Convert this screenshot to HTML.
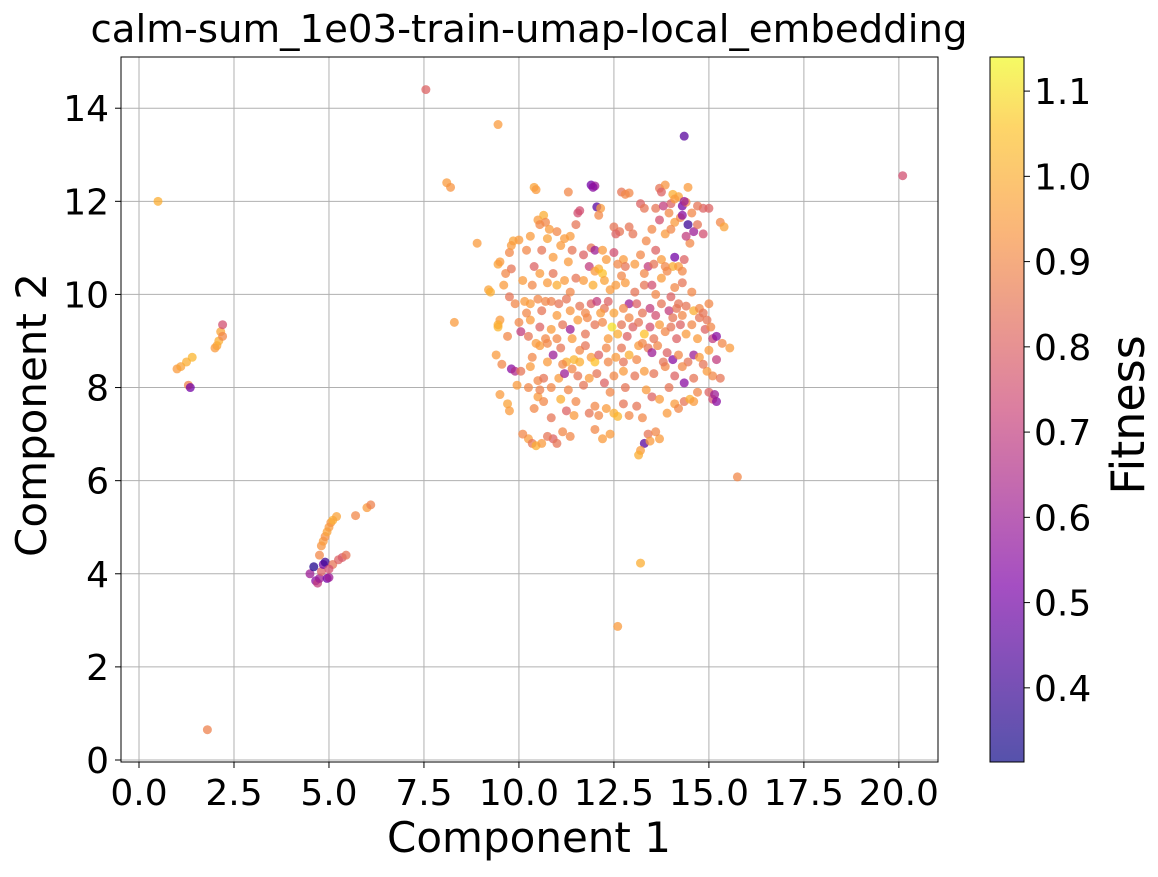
<!DOCTYPE html>
<html><head><meta charset="utf-8"><style>
html,body{margin:0;padding:0;background:#fff;}
svg text{font-family:"DejaVu Sans","Liberation Sans",sans-serif;fill:#000;}
</style></head><body>
<svg id="chart" width="1158" height="872" xmlns="http://www.w3.org/2000/svg">
<defs><linearGradient id="cbgrad" x1="0" y1="1" x2="0" y2="0"></linearGradient></defs>
<text x="529" y="42" font-size="38" text-anchor="middle" textLength="877" lengthAdjust="spacingAndGlyphs">calm-sum_1e03-train-umap-local_embedding</text>
<g id="grid"></g>
<g id="points"></g>
<rect x="121" y="57" width="817" height="705" fill="none" stroke="#000" stroke-width="1"/>
<g id="xticks"></g>
<g id="yticks"></g>
<text x="529" y="852" font-size="42" text-anchor="middle">Component 1</text>
<text transform="translate(46,415) rotate(-90)" font-size="42" text-anchor="middle">Component 2</text>
<rect x="990" y="57" width="34" height="705" fill="url(#cbgrad)" stroke="#000" stroke-width="1"/>
<g id="cbticks"></g>
<text transform="translate(1144,415) rotate(-90)" font-size="46" text-anchor="middle">Fitness</text>
</svg>
<script>
const xTicks=[0,2.5,5,7.5,10,12.5,15,17.5,20];
const yTicks=[0,2,4,6,8,10,12,14];
const cbTicks=[0.4,0.5,0.6,0.7,0.8,0.9,1.0,1.1];
const outlierPoints=[[0.5,12.0,1.0],[1.8,0.65,0.88],[7.55,14.4,0.8],[9.45,13.65,0.95],[20.1,12.55,0.75],[14.35,13.4,0.45],[15.75,6.08,0.9],[13.2,4.23,1.0],[12.6,2.87,0.95],[8.1,12.4,0.95],[8.2,12.3,0.93],[8.3,9.4,0.95],[8.9,11.1,0.95]];
const leftPoints=[[1.0,8.4,0.95],[1.1,8.45,0.97],[1.25,8.55,1.0],[1.4,8.65,1.02],[1.3,8.05,0.88],[1.35,8.0,0.5],[2.0,8.85,0.95],[2.05,8.9,0.97],[2.1,9.0,1.0],[2.15,9.2,0.98],[2.2,9.1,0.9],[2.2,9.35,0.75]];
const lowerPoints=[[4.5,4.0,0.6],[4.6,4.15,0.35],[4.65,3.85,0.55],[4.7,3.8,0.7],[4.75,3.9,0.6],[4.8,4.05,0.8],[4.85,4.2,0.5],[4.9,4.25,0.4],[4.95,3.9,0.5],[5.0,3.92,0.6],[4.8,4.6,0.93],[4.85,4.7,0.95],[4.9,4.8,0.92],[4.95,4.9,0.97],[5.0,5.0,0.95],[5.05,5.1,0.93],[5.1,5.15,1.0],[5.2,5.23,0.97],[5.1,4.2,0.85],[5.25,4.3,0.8],[5.35,4.35,0.78],[5.45,4.4,0.85],[5.7,5.25,0.9],[6.0,5.42,0.95],[6.1,5.48,0.88],[4.75,4.4,0.9],[5.0,4.1,0.75]];
const clusterPoints=[
[10.4,12.3,.97],[11.3,12.2,.9],[11.9,12.35,.5],[12.0,12.33,.6],[12.7,12.2,.85],[12.9,12.18,.9],[13.7,12.28,.85],[13.85,12.35,.93],[14.45,12.3,.95],[14.2,12.1,.97],[14.05,12.15,1.0],
[11.55,11.75,.75],[12.05,11.88,.45],[12.15,11.85,.95],[13.2,11.95,.8],[13.6,11.85,.85],[14.0,11.95,.8],[14.3,11.9,.5],[14.4,11.98,.9],[14.85,11.85,.8],[14.7,11.9,.85],[15.3,11.55,.9],[15.4,11.45,.97],
[10.5,11.6,.95],[10.65,11.7,1.0],[10.7,11.55,.9],[11.0,11.35,.9],[11.1,11.05,.95],[11.35,11.25,.95],[12.5,11.45,.85],[12.65,11.35,.85],[13.0,11.3,.85],[13.35,11.15,.9],[13.7,11.6,.75],[13.95,11.75,.9],[14.1,11.55,.95],[14.25,11.65,.9],[14.45,11.5,.4],[14.6,11.35,.6],[14.85,11.3,.75],[14.5,11.1,.9],[14.3,11.7,.55],
[9.85,11.15,.97],[10.0,11.17,.95],[9.75,10.9,.9],[10.3,11.25,.95],[10.75,11.2,.97],[10.9,10.8,.95],[11.4,10.95,.85],[11.9,11.0,.85],[12.0,10.95,.6],[12.3,10.75,.95],[12.5,10.9,.75],[12.75,10.75,.95],[12.8,10.6,.85],[13.2,10.85,.9],[13.4,10.6,.7],[13.6,10.95,.8],[13.75,10.75,.95],[14.1,10.8,.5],[14.05,10.6,1.0],[14.2,10.6,.95],[14.3,10.5,.9],
[9.45,10.65,.97],[9.5,10.7,.95],[9.8,10.55,.85],[9.6,10.2,.95],[10.4,10.6,.8],[10.55,10.45,.95],[10.75,10.25,.95],[11.0,10.2,1.0],[11.2,10.3,.95],[11.5,10.35,.85],[11.85,10.6,.7],[12.0,10.5,.95],[12.1,10.55,1.0],[12.2,10.45,1.05],[12.25,10.3,.97],[12.4,10.1,.95],[12.8,10.25,.95],[13.3,10.2,.85],[13.5,10.2,.75],[13.75,10.35,.95],[13.9,10.5,.9],[14.1,10.15,.9],[14.0,9.95,.8],[14.2,9.8,.85],[12.7,10.4,.9],
[9.2,10.1,.97],[9.25,10.05,1.0],[9.75,9.95,.85],[9.9,9.8,.9],[10.15,9.85,.95],[10.3,9.8,.95],[10.5,9.9,.9],[10.7,9.85,.9],[10.85,9.85,.88],[11.05,9.8,.85],[11.35,9.65,.93],[11.6,9.75,.85],[11.9,9.8,.8],[12.05,9.85,.7],[12.25,9.7,.85],[12.5,9.6,.97],[12.9,9.8,.6],[13.1,9.8,.8],[13.45,9.7,.7],[13.75,9.8,.85],[13.95,9.65,.7],[14.15,9.7,.85],[14.4,9.75,.85],[14.6,9.65,1.0],[14.75,9.7,.9],[15.0,9.8,.9],[14.85,9.6,.85],
[9.5,9.45,.95],[9.45,9.3,1.02],[9.45,9.35,1.0],[10.0,9.4,.9],[10.05,9.2,.7],[10.3,9.45,.95],[10.55,9.3,.8],[10.7,9.05,.9],[10.85,9.25,.95],[11.15,9.35,.85],[11.35,9.25,.6],[11.55,9.45,.95],[11.8,9.5,.9],[12.0,9.35,.85],[12.2,9.4,.9],[12.45,9.3,1.1],[12.6,9.15,1.0],[12.7,9.35,.85],[12.9,9.5,.9],[13.0,9.3,.8],[13.15,9.4,.85],[13.3,9.15,1.05],[13.45,9.3,.75],[13.7,9.35,.95],[13.85,9.2,.9],[14.0,9.3,.85],[14.25,9.35,.8],[14.4,9.15,.95],[14.55,9.35,.9],[14.75,9.5,.85],[14.9,9.25,.8],[15.1,9.05,.7],[15.2,9.1,.55],[15.35,8.95,.9],
[10.55,8.9,.95],[10.75,8.95,.9],[10.9,8.7,.6],[11.1,8.85,.85],[11.25,8.55,1.0],[11.45,8.6,1.02],[11.6,8.8,.9],[11.75,8.9,.85],[11.9,8.65,.95],[12.0,8.55,1.05],[12.1,8.7,.8],[12.3,8.85,.9],[12.55,8.65,.95],[12.7,8.85,.85],[12.9,8.7,1.0],[13.15,8.9,.95],[13.4,8.85,.85],[13.5,8.75,.6],[13.65,8.9,.9],[13.9,8.75,.8],[14.05,8.6,.55],[14.2,8.7,.9],[14.45,8.55,.85],[14.6,8.7,.6],[14.75,8.65,.95],[15.0,8.8,.95],[15.55,8.85,.95],
[9.4,8.7,.95],[9.55,8.5,.9],[9.8,8.4,.55],[9.9,8.35,.65],[10.05,8.35,.85],[10.3,8.45,.95],[10.5,8.15,.9],[10.65,8.2,.85],[10.85,8.0,.9],[11.05,8.2,.95],[11.2,8.3,.6],[11.4,8.4,.9],[11.55,8.25,.85],[11.85,8.2,.95],[12.05,8.3,.85],[12.25,8.1,.8],[12.5,8.25,.9],[12.75,8.35,.95],[13.05,8.25,.85],[13.3,8.35,.95],[13.55,8.3,.85],[13.85,8.45,.9],[14.1,8.25,.8],[14.35,8.1,.55],[14.6,8.2,.85],[14.95,8.35,.95],[15.1,8.25,.9],[15.3,8.2,.85],
[9.5,7.85,.95],[9.7,7.65,.97],[9.75,7.5,.95],[10.5,7.8,.95],[10.55,7.95,.88],[10.65,7.7,.9],[11.1,7.75,1.0],[11.25,7.5,.8],[11.5,7.7,.9],[11.85,7.45,.85],[12.1,7.4,.9],[12.5,7.45,1.0],[12.6,7.38,1.02],[12.3,7.55,.95],[12.9,7.4,.9],[13.1,7.6,.85],[13.5,7.8,.8],[13.7,7.75,.95],[14.1,7.65,.95],[14.35,7.7,.85],[14.5,7.75,1.0],[15.0,7.9,.8],[15.1,7.75,.75],[15.2,7.7,.55],[15.15,7.85,.6],
[10.25,6.9,.95],[10.35,6.8,.85],[10.45,6.75,1.0],[10.6,6.8,.95],[10.9,6.9,.8],[11.0,6.8,.85],[11.15,7.05,.9],[12.0,7.1,.9],[12.2,6.9,.95],[13.3,6.8,.45],[13.4,7.0,.85],[13.45,6.85,.95],[13.2,6.65,.95],[13.15,6.55,1.0],[13.7,6.9,.95]];
const clusterPoints2=[
[10.45,12.25,.95],[11.95,12.3,.55],[12.8,12.15,.9],[13.75,12.2,.8],[14.1,12.05,.95],[14.35,12.0,.6],
[11.6,11.8,.75],[12.1,11.7,.9],[13.3,11.85,.85],[13.8,11.9,.7],[14.55,11.75,.9],[15.0,11.85,.8],
[10.55,11.5,.9],[10.8,11.4,.95],[11.2,11.2,.95],[11.5,11.5,.85],[12.55,11.3,.8],[12.9,11.45,.85],[13.5,11.4,.9],[13.85,11.3,.95],[14.0,11.4,.9],[14.4,11.25,.7],[14.7,11.5,.85],
[9.8,11.05,.95],[10.2,10.95,.9],[10.6,10.95,.85],[11.3,10.7,.95],[11.7,10.85,.8],[12.2,10.95,.95],[12.6,10.65,.9],[13.05,10.65,.95],[13.3,10.45,.9],[13.55,10.65,.85],[13.85,10.6,.9],[14.35,10.75,.8],
[9.65,10.45,.9],[10.1,10.3,.95],[10.35,10.2,.9],[10.9,10.45,.85],[11.35,10.05,.9],[11.7,10.3,.95],[11.95,10.2,1.0],[12.55,10.2,.95],[13.05,10.05,.85],[13.6,10.0,.9],[14.3,10.25,.85],[14.55,10.05,.9],
[10.2,9.6,.9],[10.6,9.65,.85],[11.0,9.55,.95],[11.25,9.9,.85],[11.75,9.6,.9],[12.15,9.6,.95],[12.35,9.85,.8],[12.75,9.7,.9],[13.25,9.6,.85],[13.6,9.55,.75],[14.05,9.5,.85],[14.3,9.55,.9],[14.95,9.45,.85],
[9.7,9.1,.9],[10.25,9.1,.85],[10.45,8.95,.95],[11.0,9.05,.9],[11.4,9.05,.95],[11.75,9.15,.85],[12.35,9.05,.95],[12.85,9.1,.8],[13.25,8.95,.9],[13.55,9.05,.85],[14.15,9.05,.8],[14.7,9.05,.95],[15.05,9.3,.9],
[10.35,8.65,.9],[10.75,8.55,.95],[11.15,8.5,.9],[11.6,8.55,1.0],[12.35,8.55,.9],[12.75,8.55,.85],[13.1,8.6,.9],[13.8,8.55,.85],[14.3,8.45,.9],[14.85,8.5,.85],[15.2,8.6,.7],
[9.95,8.05,.95],[10.25,8.0,.9],[11.3,7.95,.9],[11.7,8.05,.85],[12.4,7.9,.9],[12.8,8.0,.85],[13.35,7.95,.95],[13.95,8.0,.85],[14.7,7.9,.9],
[10.4,7.55,.9],[10.85,7.35,.85],[11.45,7.4,.95],[12.0,7.6,.9],[12.75,7.65,.85],[13.25,7.35,.9],[13.9,7.45,.95],[14.2,7.55,.9],[14.6,7.7,.95],
[10.1,7.0,.9],[10.75,6.95,.85],[11.35,6.95,.9],[12.4,7.0,.95],[13.6,7.05,.9]];

const NS='http://www.w3.org/2000/svg';
const X0=121,X1=938,Y0=57,Y1=762;
const xMin=-0.474,xMax=21.03,yMin=-0.043,yMax=15.1;
const cMin=0.313,cMax=1.14;
const xs=v=>X0+(v-xMin)/(xMax-xMin)*(X1-X0);
const ys=v=>Y1-(v-yMin)/(yMax-yMin)*(Y1-Y0);
const cs=v=>Y1-(v-cMin)/(cMax-cMin)*(Y1-Y0);
const stops2=[[0,[13,8,135]],[0.25,[126,3,168]],[0.5,[204,71,120]],[0.75,[248,149,64]],[0.9,[253,195,40]],[1,[240,249,33]]];
function plasma(t){t=Math.max(0,Math.min(1,t));for(let i=1;i<stops2.length;i++){if(t<=stops2[i][0]){const a=stops2[i-1],b=stops2[i];const u=(t-a[0])/(b[0]-a[0]);return 'rgb('+a[1].map((c,k)=>Math.round(c+(b[1][k]-c)*u)).join(',')+')';}}return 'rgb(240,249,33)';}
function mk(tag,attrs,parent){const e=document.createElementNS(NS,tag);for(const k in attrs)e.setAttribute(k,attrs[k]);parent.appendChild(e);return e;}
const grad=document.getElementById('cbgrad');
for(let i=0;i<=20;i++){const t=i/20;mk('stop',{offset:t,'stop-color':plasma(t),'stop-opacity':0.7},grad);}
const grid=document.getElementById('grid');
const xt=document.getElementById('xticks');
xTicks.forEach(v=>{const x=xs(v);
const gl=mk('line',{x1:x,x2:x,y1:Y0,y2:Y1,stroke:'#b0b0b0','stroke-width':1},grid);


mk('line',{x1:x,x2:x,y1:Y1,y2:Y1+6,stroke:'#000'},xt);
const t=mk('text',{x:x,y:Y1+43,'font-size':36,'text-anchor':'middle'},xt);t.textContent=v.toFixed(1);

});
const yt=document.getElementById('yticks');
yTicks.forEach(v=>{const y=ys(v);
const gl=mk('line',{x1:X0,x2:X1,y1:y,y2:y,stroke:'#b0b0b0','stroke-width':1},grid);


mk('line',{x1:X0-6,x2:X0,y1:y,y2:y,stroke:'#000'},yt);
const t=mk('text',{x:X0-12,y:y+13,'font-size':36,'text-anchor':'end'},yt);t.textContent=String(v);

});
const cb=document.getElementById('cbticks');
cbTicks.forEach(v=>{const y=cs(v);
mk('line',{x1:1024,x2:1030,y1:y,y2:y,stroke:'#000'},cb);
const t=mk('text',{x:1034,y:y+13,'font-size':36},cb);t.textContent=v.toFixed(1);

});
const pg=document.getElementById('points');
[outlierPoints,leftPoints,lowerPoints,clusterPoints,clusterPoints2].forEach(arr=>arr.forEach(p=>{
const c=mk('circle',{cx:xs(p[0]),cy:ys(p[1]),r:4.5,fill:plasma((p[2]-cMin)/(cMax-cMin)),'fill-opacity':0.75},pg);

}));
</script>
</body></html>
